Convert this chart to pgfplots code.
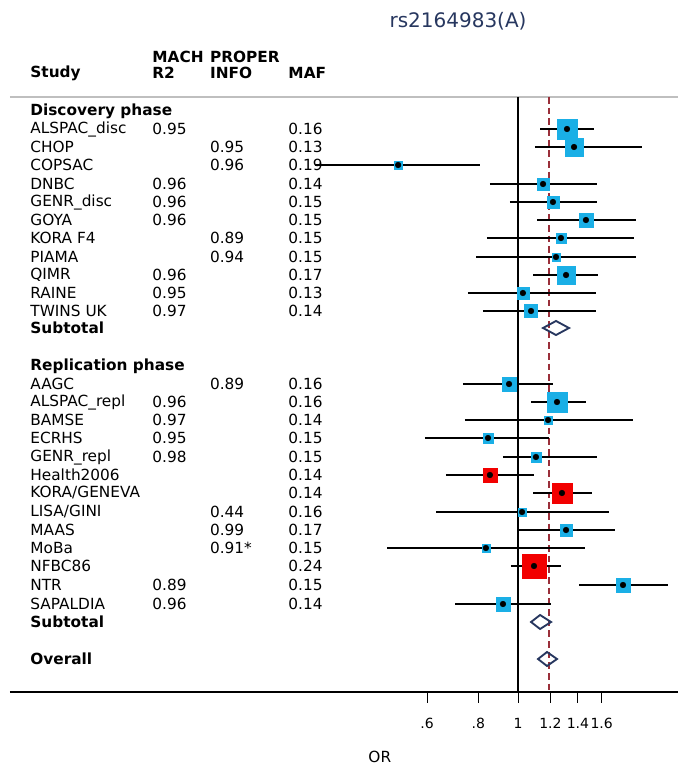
\documentclass[border=0pt]{standalone}
\usepackage{pgfplots}
\pgfplotsset{compat=1.18}
\usepackage{fontspec}
\setmainfont{DejaVu Sans}
\definecolor{cy}{HTML}{1AAFE6}
\definecolor{rd}{HTML}{F20000}
\definecolor{nv}{HTML}{27375F}
\definecolor{dr}{HTML}{9A2F3A}
\newcommand{\xs}{0.0645}
\newcommand{\xm}{0.128}
\newcommand{\xp}{0.177}
\newcommand{\xf}{0.275}
\newcommand{\fs}{\fontsize{11.5}{12}\selectfont}
% y, or, lo, hi, boxpx, color, name, mach, proper
\newcommand{\study}[9]{%
  \addplot[black, line width=1.3pt] coordinates {(#3,#1) (#4,#1)};
  \addplot[only marks, mark=square*, mark size={#5*0.375pt}, color=#6] coordinates {(#2,#1)};
  \addplot[only marks, mark=*, mark size=2.1pt, black] coordinates {(#2,#1)};
  \node[anchor=west,inner sep=0pt,font=\fs] at (axis cs:\xs,#1) {#7};
  \node[anchor=west,inner sep=0pt,font=\fs] at (axis cs:\xm,#1) {#8};
  \node[anchor=west,inner sep=0pt,font=\fs] at (axis cs:\xp,#1) {#9};
}
\newcommand{\maf}[2]{\node[anchor=west,inner sep=0pt,font=\fs] at (axis cs:\xf,#1) {#2};}
\newcommand{\hd}[3]{\node[anchor=west,inner sep=0pt,font=\bfseries\fs] at (axis cs:#1,#2) {#3};}
\newcommand{\diam}[4]{\addplot[nv, line width=1.4pt] coordinates {(#2,#1) (#3,#1-7) (#4,#1) (#3,#1+7)} -- cycle;}
\begin{document}
\begin{tikzpicture}
\path[use as bounding box] (0,0) rectangle (508.5pt,575.25pt);
\begin{axis}[
  at={(7.5pt,56.25pt)}, anchor=south west,
  scale only axis, width=501pt, height=446.25pt,
  xmode=log, xmin=0.0576, xmax=2.457,
  y dir=reverse, ymin=97, ymax=692,
  axis x line*=bottom, axis y line=none,
  x axis line style={-, line width=0.9pt},
  xtick={0.6,0.8,1,1.2,1.4,1.6},
  xticklabels={.6,.8,1,1.2,1.4,1.6},
  minor xtick={},
  tick style={black, line width=0.7pt},
  xtick align=outside, major tick length=8pt,
  xticklabel style={font=\fontsize{10.5}{11}\selectfont, yshift=-8pt},
  clip=false,
]
\draw[gray!50, line width=0.9pt] (axis cs:0.0576,97) -- (axis cs:2.457,97);
\draw[black, line width=0.8pt] (axis cs:1,97) -- (axis cs:1,692);
\draw[dr, dash pattern=on 5pt off 3pt, line width=0.9pt] (axis cs:1.19,97) -- (axis cs:1.19,692);
\node[font=\fontsize{15}{16}\selectfont, text=nv] at (axis cs:0.714,21) {rs2164983(A)};
\node[font=\fs] at (axis cs:0.46,757) {OR};
\hd{\xs}{73}{Study}
\hd{\xm}{57}{MACH}
\hd{\xm}{73}{R2}
\hd{\xp}{57}{PROPER}
\hd{\xp}{73}{INFO}
\hd{\xf}{73}{MAF}
\hd{\xs}{111}{Discovery phase}
\hd{\xs}{328}{Subtotal}
\hd{\xs}{366}{Replication phase}
\hd{\xs}{622}{Subtotal}
\hd{\xs}{659}{Overall}
\study{129}{1.317}{1.132}{1.533}{20}{cy}{ALSPAC\_disc}{0.95}{} \maf{129}{0.16}
\study{147}{1.370}{1.100}{2.007}{18}{cy}{CHOP}{}{0.95} \maf{147}{0.13}
\study{165}{0.510}{0.320}{0.808}{8}{cy}{COPSAC}{}{0.96} \maf{165}{0.19}
\study{184}{1.151}{0.854}{1.559}{12}{cy}{DNBC}{0.96}{} \maf{184}{0.14}
\study{202}{1.217}{0.956}{1.559}{12}{cy}{GENR\_disc}{0.96}{} \maf{202}{0.15}
\study{220}{1.465}{1.113}{1.940}{14}{cy}{GOYA}{0.96}{} \maf{220}{0.15}
\study{238}{1.273}{0.840}{1.919}{10}{cy}{KORA F4}{}{0.89} \maf{238}{0.15}
\study{257}{1.238}{0.790}{1.940}{8}{cy}{PIAMA}{}{0.94} \maf{257}{0.15}
\study{275}{1.310}{1.088}{1.567}{18}{cy}{QIMR}{0.96}{} \maf{275}{0.17}
\study{293}{1.028}{0.755}{1.550}{12}{cy}{RAINE}{0.95}{} \maf{293}{0.13}
\study{311}{1.076}{0.821}{1.550}{13}{cy}{TWINS UK}{0.97}{} \maf{311}{0.14}
\diam{328}{1.151}{1.238}{1.332}
\study{384}{0.951}{0.734}{1.217}{14}{cy}{AAGC}{}{0.89} \maf{384}{0.16}
\study{402}{1.245}{1.076}{1.465}{20}{cy}{ALSPAC\_repl}{0.96}{} \maf{402}{0.16}
\study{420}{1.184}{0.742}{1.908}{8}{cy}{BAMSE}{0.97}{} \maf{420}{0.14}
\study{438}{0.845}{0.593}{1.190}{10}{cy}{ECRHS}{0.95}{} \maf{438}{0.15}
\study{457}{1.106}{0.919}{1.559}{10}{cy}{GENR\_repl}{0.98}{} \maf{457}{0.15}
\study{475}{0.854}{0.667}{1.094}{14}{rd}{Health2006}{}{} \maf{475}{0.14}
\study{493}{1.280}{1.088}{1.515}{20}{rd}{KORA/GENEVA}{}{} \maf{493}{0.14}
\study{512}{1.023}{0.631}{1.667}{8}{cy}{LISA/GINI}{}{0.44} \maf{512}{0.16}
\study{530}{1.310}{1.000}{1.725}{12}{cy}{MAAS}{}{0.99} \maf{530}{0.17}
\study{548}{0.835}{0.479}{1.457}{8}{cy}{MoBa}{}{0.91*} \maf{548}{0.15}
\study{566}{1.094}{0.961}{1.273}{24}{rd}{NFBC86}{}{} \maf{566}{0.24}
\study{585}{1.804}{1.409}{2.323}{14}{cy}{NTR}{0.89}{} \maf{585}{0.15}
\study{604}{0.919}{0.702}{1.204}{14}{cy}{SAPALDIA}{0.96}{} \maf{604}{0.14}
\diam{622}{1.076}{1.132}{1.204}
\diam{659}{1.119}{1.177}{1.245}
\end{axis}
\end{tikzpicture}
\end{document}
